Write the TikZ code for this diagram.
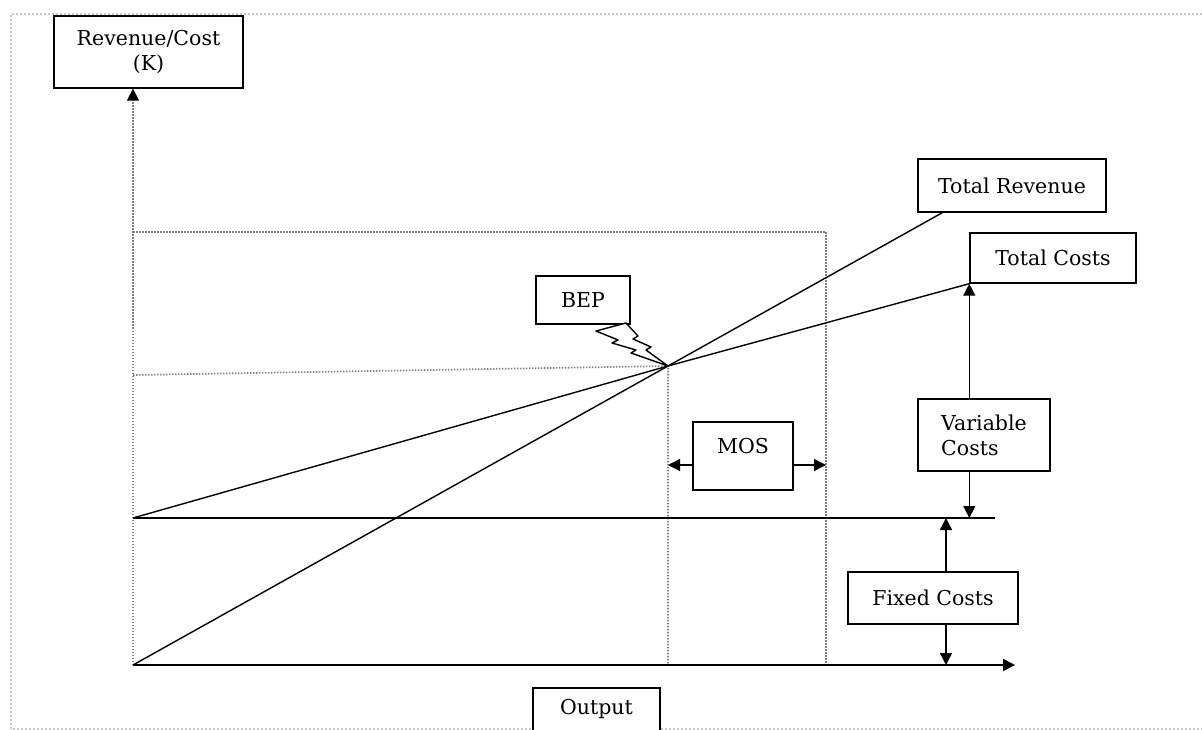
\documentclass[tikz,border=0pt]{standalone}
\usepackage{fontspec}
\setmainfont{DejaVu Serif}
\usetikzlibrary{arrows.meta,positioning}

\begin{document}
\begin{tikzpicture}[x=1pt, y=-1pt,
    box/.style={draw, line width=1.4pt, fill=white, inner sep=0pt,
                font=\fontsize{20.5}{25}\selectfont},
    tip/.style={-{Triangle[length=12pt,width=12pt]}, line width=1.4pt},
    axis/.style={line width=1.7pt},
    guide/.style={gray, line width=1.7pt, dash pattern=on 1.5pt off 1.5pt},
    frame/.style={gray!45, line width=1.5pt, dash pattern=on 2pt off 2pt}
]
\useasboundingbox (0,0) rectangle (1202,730);

% Frame
\draw[frame] (1202,14) -- (11,14) -- (11,729) -- (1202,729);

% Points on the chart
\coordinate (O) at (133,665);
\coordinate (xend) at (1015,665);
\coordinate (fcstart) at (133,518);
\coordinate (fcend) at (995,518);
\coordinate (bep) at (668,366);
\coordinate (bepleft) at (133,375);
\coordinate (topleft) at (133,232);
\coordinate (safe) at (826,232);

% Labels
\node[box, minimum width=189, minimum height=72, align=center] (rc) at (148.5,52) {Revenue/Cost\\(K)};
\node[box, minimum width=188, minimum height=53] (tr) at (1012,185.5) {Total Revenue};
\node[box, minimum width=166, minimum height=50] (tc) at (1053,258) {Total Costs};
\node[box, minimum width=94, minimum height=48] (bepbox) at (583,300) {BEP};
\node[box, minimum width=100, minimum height=68, text depth=20pt] (mos) at (743,456) {MOS};
\node[box, minimum width=132, minimum height=72, align=left] (vc) at (984,435) {Variable\\Costs};
\node[box, minimum width=170, minimum height=52] (fc) at (933,598) {Fixed Costs};
\node[box, minimum width=127, minimum height=43] (out) at (596.5,709.5) {Output};

% Guide lines
\draw[guide] (topleft) -- (safe) -- (safe |- O);
\draw[guide] (bepleft) -- (bep) -- (bep |- O);

% Axes
\draw[guide, -{Triangle[length=12pt,width=12pt,color=black]}] (O) -- (O |- rc.south);
\draw[axis, -{Triangle[length=12pt,width=12pt]}] (O) -- (xend);

% Revenue and cost lines
\draw[axis] (fcstart) -- (fcend);
\draw[line width=1.4pt] (O) -- (bep) -- ([xshift=25pt]tr.south west);
\draw[line width=1.4pt] (fcstart) -- (bep) -- (tc.south west);

% BEP callout
\draw[line width=1.4pt, fill=white, line join=round]
  (596,331) -- (626,323) -- (638,336) -- (633,339) -- (651,347) -- (646,350)
  -- (bep) -- (631,353) -- (636,350) -- (612,343) -- (618,340) -- cycle;

% Margin of safety
\draw[tip] ([yshift=-9pt]mos.west) -- ([yshift=-9pt]mos.west -| bep);
\draw[tip] ([yshift=-9pt]mos.east) -- ([yshift=-9pt]mos.east -| safe);

% Variable and fixed costs
\draw[tip] (tc.south west |- vc.north) -- (tc.south west);
\draw[tip] (tc.south west |- vc.south) -- (tc.south west |- fcend);
\draw[tip] ([xshift=13pt]fc.north) -- ([xshift=13pt]fc.north |- fcend);
\draw[tip] ([xshift=13pt]fc.south) -- ([xshift=13pt]fc.south |- O);

\end{tikzpicture}
\end{document}
